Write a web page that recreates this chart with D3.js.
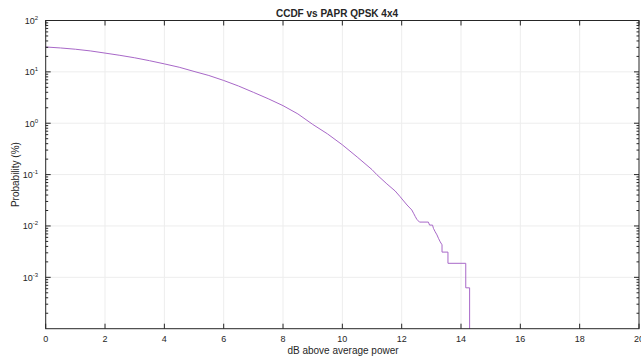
<!DOCTYPE html>
<html><head><meta charset="utf-8">
<script src="https://cdn.jsdelivr.net/npm/d3@7"></script>
<style>
body{margin:0;background:#fff}
svg{display:block}
text{font-family:"Liberation Sans",Arial,Helvetica,sans-serif;fill:#262626}
</style>
</head><body>
<svg id="c" width="641" height="358"></svg>
<script>
const titleText = "CCDF vs PAPR QPSK 4x4";
const xLabelText = "dB above average power";
const yLabelText = "Probability (%)";
const xTicks = [0, 2, 4, 6, 8, 10, 12, 14, 16, 18, 20];
const yDecades = [-3, -2, -1, 0, 1, 2];
const xDomain = [0, 20];
const yDomain = [1e-4, 1e2];

// PAPR threshold (dB) and CCDF (%)
const paprDb = [0, 0.5, 1, 1.5, 2, 2.5, 3, 3.5, 4, 4.5, 5, 5.5, 6, 6.5, 7, 7.5, 8, 8.5, 9, 9.5,
  10, 10.5, 11.0, 11.16, 11.5, 11.78, 11.95, 12.04, 12.18, 12.34, 12.40, 12.46, 12.51, 12.60,
  12.90, 12.94, 13.04, 13.07, 13.13, 13.19, 13.24, 13.30, 13.36, 13.36, 13.56, 13.56, 14.16, 14.16, 14.29, 14.29];
const ccdfPct = [30.5, 29.2, 27.6, 25.6, 23.2, 21.0, 18.8, 16.5, 14.3, 12.3, 10.2, 8.5, 6.8, 5.3, 4.0, 3.0, 2.2, 1.52, 0.95, 0.62,
  0.38, 0.22, 0.125, 0.10, 0.066, 0.048, 0.037, 0.032, 0.0256, 0.0205, 0.0177, 0.0152, 0.0135, 0.0119,
  0.0119, 0.0104, 0.0104, 0.0090, 0.0077, 0.0067, 0.00575, 0.0049, 0.0043, 0.0031, 0.0031, 0.001875, 0.001875, 0.000625, 0.000625, 0];

const L = 45.7, R = 639, T = 20.5, B = 328.7;
const svg = d3.select("#c");
const x = d3.scaleLinear().domain(xDomain).range([L, R]);
const y = d3.scaleLog().domain(yDomain).range([B, T]).clamp(true);
const axisCol = "#262626", gridCol = "#ededed";

const minorVals = [];
for (let e = -4; e < 2; e++) for (let m = 2; m <= 9; m++) minorVals.push(m * Math.pow(10, e));
const majorVals = yDecades.map(d => Math.pow(10, d));

// grid
const g = svg.append("g");
g.selectAll(".vg").data(xTicks.slice(1, -1)).enter().append("line")
  .attr("x1", d => x(d)).attr("x2", d => x(d)).attr("y1", T).attr("y2", B)
  .attr("stroke", gridCol).attr("stroke-width", 1);
g.selectAll(".hg").data(majorVals.slice(0, -1)).enter().append("line")
  .attr("x1", L).attr("x2", R).attr("y1", d => y(d)).attr("y2", d => y(d))
  .attr("stroke", gridCol).attr("stroke-width", 1);

// curve
const line = d3.line().x((d, i) => x(paprDb[i])).y((d, i) => y(Math.max(ccdfPct[i], yDomain[0])));
svg.append("path").datum(ccdfPct).attr("d", line)
  .attr("fill", "none").attr("stroke", "#a868c8").attr("stroke-width", 1);

// axes with inward ticks
const ax = svg.append("g").attr("stroke", axisCol).attr("stroke-width", 1).attr("fill", "none");
ax.append("rect").attr("x", L).attr("y", T).attr("width", R - L).attr("height", B - T);
const tl = 5, tm = 2.5;
xTicks.forEach(v => {
  ax.append("line").attr("x1", x(v)).attr("x2", x(v)).attr("y1", B).attr("y2", B - tl);
  ax.append("line").attr("x1", x(v)).attr("x2", x(v)).attr("y1", T).attr("y2", T + tl);
});
majorVals.forEach(v => {
  ax.append("line").attr("x1", L).attr("x2", L + tl).attr("y1", y(v)).attr("y2", y(v));
  ax.append("line").attr("x1", R).attr("x2", R - tl).attr("y1", y(v)).attr("y2", y(v));
});
minorVals.forEach(v => {
  ax.append("line").attr("x1", L).attr("x2", L + tm).attr("y1", y(v)).attr("y2", y(v));
  ax.append("line").attr("x1", R).attr("x2", R - tm).attr("y1", y(v)).attr("y2", y(v));
});

// tick labels
svg.selectAll(".xl").data(xTicks).enter().append("text")
  .attr("x", d => x(d)).attr("y", B + 13.5).attr("text-anchor", "middle")
  .attr("font-size", 9).text(d => d);
yDecades.forEach(e => {
  const t = svg.append("text").attr("x", 38).attr("y", y(Math.pow(10, e)) + 3.5)
    .attr("text-anchor", "end").attr("font-size", 9);
  t.append("tspan").text("10");
  t.append("tspan").attr("font-size", 6).attr("dy", -4).text(e);
});

// labels
svg.append("text").attr("x", 337).attr("y", 16.5).attr("text-anchor", "middle")
  .attr("font-size", 10).attr("font-weight", "bold").text(titleText);
svg.append("text").attr("x", 343).attr("y", 354).attr("text-anchor", "middle")
  .attr("font-size", 10).text(xLabelText);
svg.append("text").attr("transform", "translate(18.5," + ((T + B) / 2) + ") rotate(-90)")
  .attr("text-anchor", "middle").attr("font-size", 10).text(yLabelText);
</script>
</body></html>
